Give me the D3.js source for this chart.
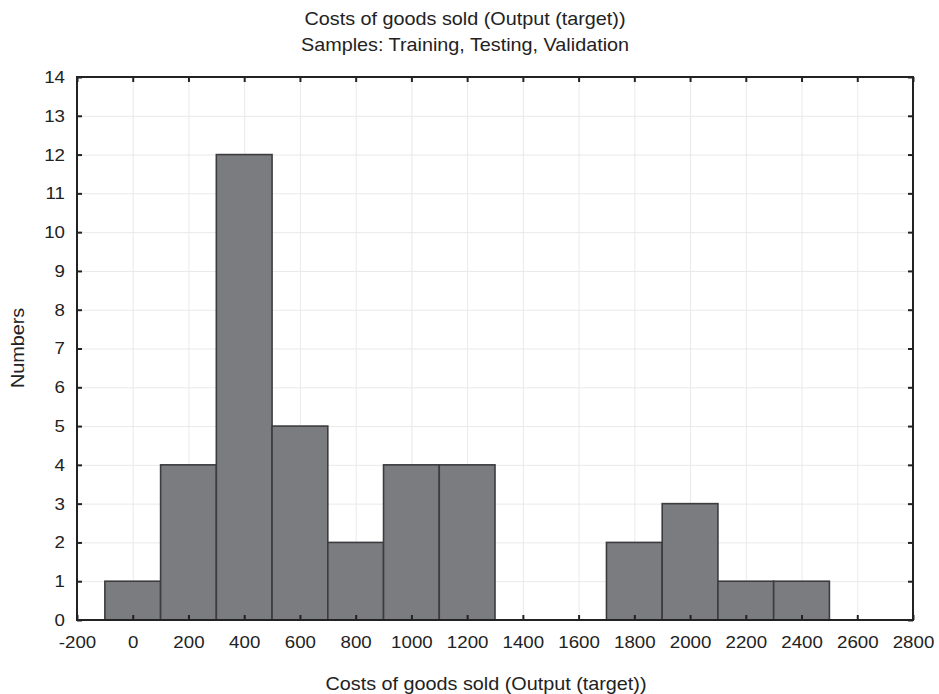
<!DOCTYPE html>
<html>
<head>
<meta charset="utf-8">
<script src="https://cdn.jsdelivr.net/npm/d3@7"></script>
<style>
  html, body { margin: 0; padding: 0; background: #fff; }
  svg { display: block; }
  text { font-family: "Liberation Sans", Arial, sans-serif; fill: #222; }
</style>
</head>
<body>
<svg id="chart" width="939" height="694"></svg>
<script>
// ---- data ----
const binCenters = [0, 200, 400, 600, 800, 1000, 1200, 1400, 1600, 1800, 2000, 2200, 2400];
const counts     = [1, 4, 12, 5, 2, 4, 4, 0, 0, 2, 3, 1, 1];
const binWidth = 200;
const xTicks = [-200, 0, 200, 400, 600, 800, 1000, 1200, 1400, 1600, 1800, 2000, 2200, 2400, 2600, 2800];
const yTicks = [0, 1, 2, 3, 4, 5, 6, 7, 8, 9, 10, 11, 12, 13, 14];
const titleLines = ["Costs of goods sold (Output (target))", "Samples: Training, Testing, Validation"];
const xLabel = "Costs of goods sold (Output (target))";
const yLabel = "Numbers";

// ---- layout ----
const W = 939, H = 694;
const m = { left: 77, right: 939 - 913, top: 77, bottom: 694 - 620 };
const iw = W - m.left - m.right, ih = H - m.top - m.bottom;
const SX = 1.1; // horizontal text stretch

const svg = d3.select("#chart");
const g = svg.append("g").attr("transform", `translate(${m.left},${m.top})`);

const x = d3.scaleLinear().domain([-200, 2800]).range([0, iw]);
const y = d3.scaleLinear().domain([0, 14]).range([ih, 0]);

// grid
g.append("g").attr("class", "grid")
  .attr("transform", `translate(0,${ih})`)
  .call(d3.axisBottom(x).tickValues(xTicks).tickSize(-ih).tickFormat(""))
  .call(s => s.select(".domain").remove())
  .call(s => s.selectAll("line").attr("stroke", "#e9e9e9").attr("stroke-width", 1));
g.append("g").attr("class", "grid")
  .call(d3.axisLeft(y).tickValues(yTicks).tickSize(-iw).tickFormat(""))
  .call(s => s.select(".domain").remove())
  .call(s => s.selectAll("line").attr("stroke", "#e9e9e9").attr("stroke-width", 1));

// bars
const data = binCenters.map((c, i) => ({ c, n: counts[i] })).filter(d => d.n > 0);
g.append("g").selectAll("rect").data(data).join("rect")
  .attr("x", d => x(d.c - binWidth / 2))
  .attr("width", d => x(d.c + binWidth / 2) - x(d.c - binWidth / 2))
  .attr("y", d => y(d.n))
  .attr("height", d => y(0) - y(d.n))
  .attr("fill", "#7b7c80")
  .attr("stroke", "#3c3c3e")
  .attr("stroke-width", 1.6);

// axes
const tickStyle = s => {
  s.select(".domain").remove();
  s.selectAll("line").attr("stroke", "#222").attr("stroke-width", 2);
};
g.append("g").attr("transform", `translate(0,${ih})`)
  .call(d3.axisBottom(x).tickValues(xTicks).tickSize(-5).tickPadding(16).tickFormat(d3.format("d")))
  .call(tickStyle)
  .call(s => s.selectAll("text").attr("font-size", 17).attr("fill", "#222")
    .attr("font-family", "'Liberation Sans', Arial, sans-serif")
    .attr("transform", `scale(${SX},1)`).text(d => String(d)));
g.append("g")
  .call(d3.axisLeft(y).tickValues(yTicks).tickSize(-5).tickPadding(12))
  .call(tickStyle)
  .call(s => s.selectAll("text").attr("font-size", 17).attr("fill", "#222")
    .attr("font-family", "'Liberation Sans', Arial, sans-serif")
    .attr("x", -12 / SX)
    .attr("transform", `scale(${SX},1)`));
g.append("g")
  .call(d3.axisTop(x).tickValues(xTicks).tickSize(-5).tickFormat(""))
  .call(tickStyle);
g.append("g").attr("transform", `translate(${iw},0)`)
  .call(d3.axisRight(y).tickValues(yTicks).tickSize(-5).tickFormat(""))
  .call(tickStyle);

// frame
g.append("rect").attr("x", 0).attr("y", 0).attr("width", iw).attr("height", ih)
  .attr("fill", "none").attr("stroke", "#222").attr("stroke-width", 2);

// titles
titleLines.forEach((t, i) => {
  svg.append("text")
    .attr("transform", `translate(465,${25 + i * 26}) scale(${SX},1)`)
    .attr("text-anchor", "middle").attr("font-size", 18).text(t);
});
svg.append("text")
  .attr("transform", `translate(486,690) scale(${SX},1)`)
  .attr("text-anchor", "middle").attr("font-size", 18).text(xLabel);
svg.append("text")
  .attr("transform", `translate(24,348) rotate(-90) scale(${SX},1)`)
  .attr("text-anchor", "middle").attr("font-size", 18).text(yLabel);
</script>
</body>
</html>
